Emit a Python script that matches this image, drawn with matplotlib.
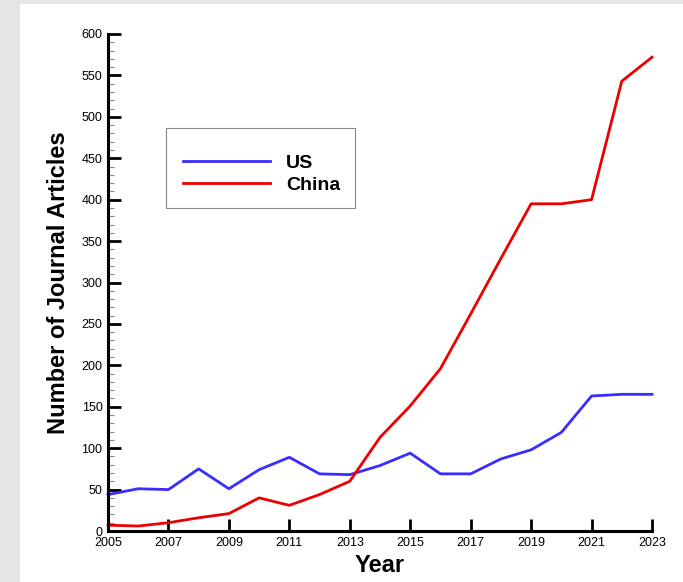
import matplotlib.pyplot as plt
from matplotlib.patches import Rectangle
from matplotlib.ticker import MultipleLocator

years = list(range(2005, 2024))
us = [44, 51, 50, 75, 51, 74, 89, 69, 68, 79, 94, 69, 69, 87, 98, 119, 163, 165, 165]
china = [7, 6, 10, 16, 21, 40, 31, 44, 60, 113, 151, 196, 262, 329, 395, 395, 400, 543, 572]
x_ticks = list(range(2005, 2024, 2))
y_ticks = list(range(0, 601, 50))

plt.rcParams['font.family'] = ['Liberation Sans', 'DejaVu Sans']

fig = plt.figure(figsize=(6.83, 5.82), dpi=100)
fig.patch.set_facecolor('#e6e6e6')
# white panel, leaves gray strip on left and top
fig.patches.append(Rectangle((20 / 683, 0), 1, 1 - 4 / 582, transform=fig.transFigure,
                             facecolor='white', edgecolor='none', zorder=-10))

ax = fig.add_axes([108 / 683, 1 - 531 / 582, 544 / 683, 497 / 582])
ax.set_facecolor('none')
ax.set_zorder(5)

ax.plot(years, us, color='#3a2dff', lw=2, label='US', clip_on=False)
ax.plot(years, china, color='#ee0000', lw=2, label='China', clip_on=False)

ax.set_xlim(2005, 2023)
ax.set_ylim(0, 600)
ax.set_xticks(x_ticks)
ax.set_yticks(y_ticks)
ax.yaxis.set_minor_locator(MultipleLocator(10))

for s in ['top', 'right']:
    ax.spines[s].set_visible(False)
for s in ['left', 'bottom']:
    ax.spines[s].set_linewidth(2.2)

ax.tick_params(axis='both', which='major', direction='in', length=9, width=2, labelsize=9, pad=4)
ax.tick_params(axis='y', which='minor', direction='in', length=4.5, width=0.8, color='#888888')
ax.tick_params(axis='x', which='minor', length=0)

ax.set_xlabel('Year', fontsize=17, fontweight='bold', labelpad=4)
ax.set_ylabel('Number of Journal Articles', fontsize=17, fontweight='bold', labelpad=8)

# legend box drawn by hand (entries sit low in the box)
ax.add_patch(Rectangle((58 / 544, 323 / 497), 189 / 544, 80 / 497, transform=ax.transAxes,
                       facecolor='white', edgecolor='#888888', lw=0.8, zorder=4))
leg = ax.legend(loc='upper left', bbox_to_anchor=((183 - 108) / 544, (531 - 154) / 497),
                prop={'weight': 'bold', 'size': 14}, frameon=False,
                handlelength=4.47, handletextpad=0.82,
                borderpad=0, labelspacing=0.25, borderaxespad=0)
leg.set_zorder(6)

fig.savefig('out.png', dpi=100, facecolor=fig.get_facecolor())
